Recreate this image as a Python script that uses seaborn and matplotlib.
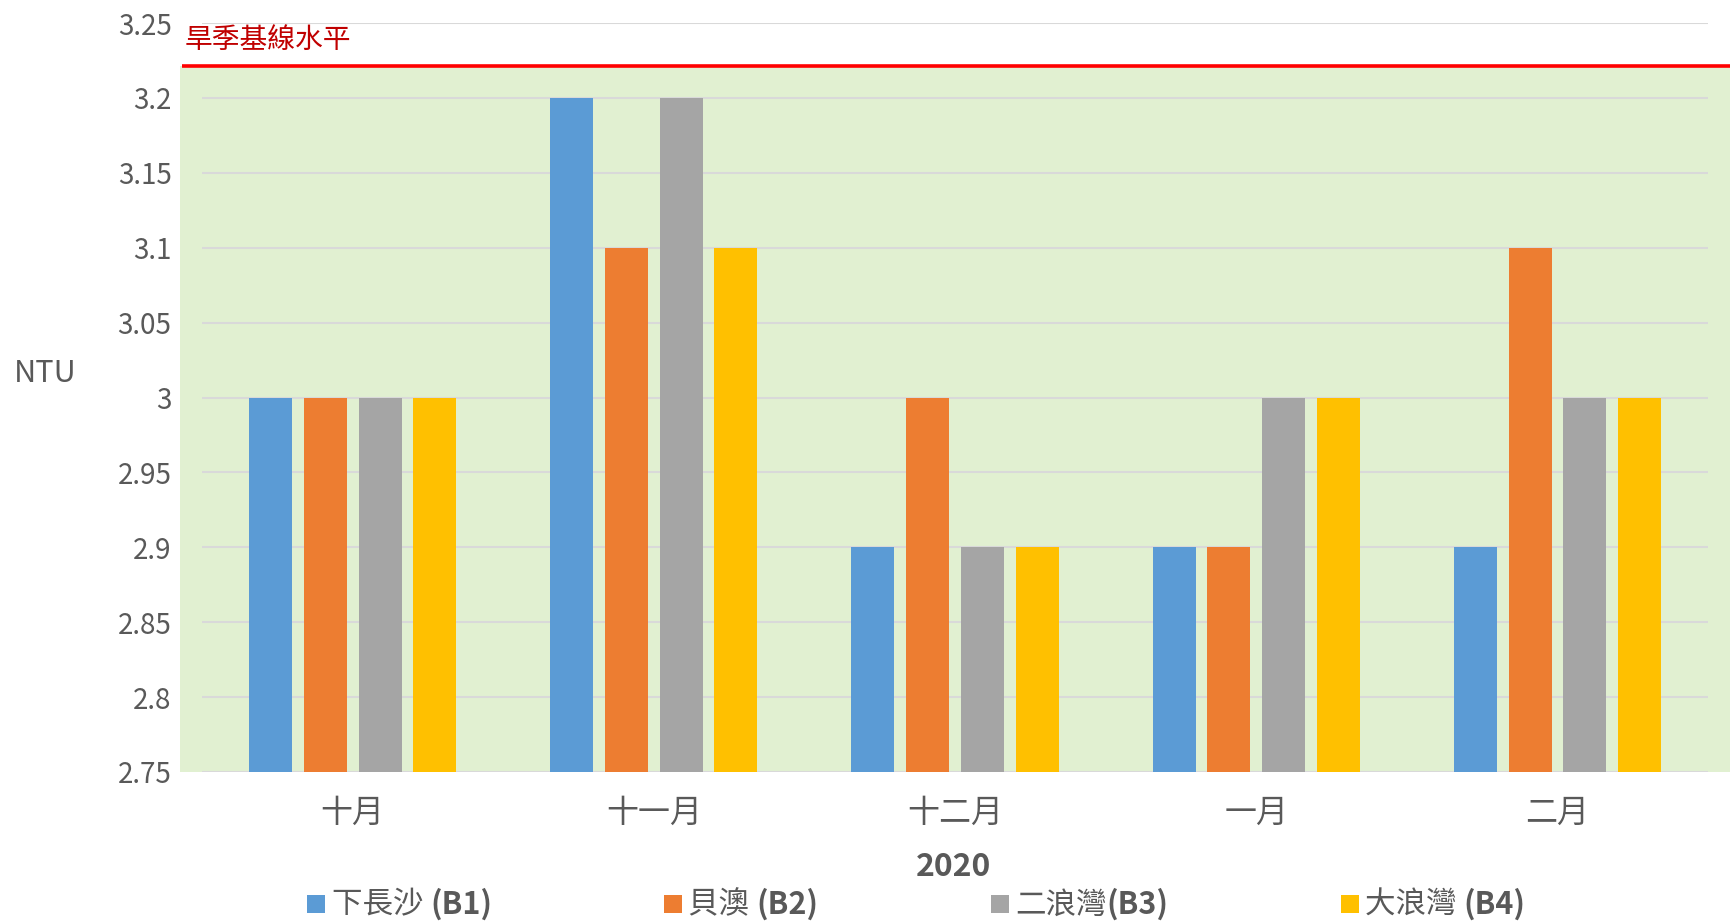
import matplotlib
matplotlib.use("Agg")
import matplotlib.pyplot as plt
import seaborn as sns
import pandas as pd
from matplotlib.offsetbox import (AnchoredOffsetbox, HPacker, TextArea,
                                  DrawingArea)
from matplotlib.patches import Rectangle

months = ["十月", "十一月", "十二月", "一月", "二月"]
stations = ["下長沙 (B1)", "貝澳 (B2)", "二浪灣(B3)", "大浪灣 (B4)"]
b1 = [3.0, 3.2, 2.9, 2.9, 2.9]
b2 = [3.0, 3.1, 3.0, 2.9, 3.1]
b3 = [3.0, 3.2, 2.9, 3.0, 3.0]
b4 = [3.0, 3.1, 2.9, 3.0, 3.0]
baseline = 3.221
baseline_label = "旱季基線水平"
yticks = [2.75, 2.8, 2.85, 2.9, 2.95, 3.0, 3.05, 3.1, 3.15, 3.2, 3.25]
ytick_labels = ["2.75", "2.8", "2.85", "2.9", "2.95", "3", "3.05", "3.1", "3.15", "3.2", "3.25"]
xlabel = "2020"
ylabel = "NTU"
colors = ["#5B9BD5", "#ED7D31", "#A5A5A5", "#FFC000"]

rows = []
for s, vals in zip(stations, [b1, b2, b3, b4]):
    for m, v in zip(months, vals):
        rows.append({"month": m, "station": s, "value": v})
df = pd.DataFrame(rows)

sns.set_theme(style="white")
FAM = ["Noto Sans CJK TC", "DejaVu Sans"]
plt.rcParams["font.family"] = FAM
plt.rcParams["axes.unicode_minus"] = False

fig = plt.figure(figsize=(17.3, 9.21), dpi=100)
ax = fig.add_axes([0.1168, 0.1618, 0.8705, 0.8132])

sns.barplot(data=df, x="month", y="value", hue="station", order=months,
            hue_order=stations, palette=colors, saturation=1, width=0.727,
            gap=0.215, linewidth=0, ax=ax, legend=False, zorder=3)

ax.set_xlim(-0.5, 4.5)
ax.set_ylim(2.75, 3.25)

# green baseline zone and red baseline line
ax.fill_between([-0.573, 4.573], 2.75, baseline, color="#E1F0D1", zorder=0,
                clip_on=False, linewidth=0)
ax.plot([-0.565, 4.573], [baseline, baseline], color="#FF0000", lw=2.6,
        zorder=4, clip_on=False, solid_capstyle="butt")
ax.text(-0.558, 3.239, baseline_label, color="#C00000", fontsize=20,
        ha="left", va="center", clip_on=False)

ax.set_yticks(yticks)
ax.set_yticklabels(ytick_labels)
ax.yaxis.grid(True, color="#D9D9D9", linewidth=1.5)
for gl in ax.get_ygridlines():
    gl.set_zorder(1)
for sp in ax.spines.values():
    sp.set_visible(False)
ax.tick_params(axis="y", length=0, pad=22, labelsize=20, labelcolor="#595959")
ax.tick_params(axis="x", length=0, pad=18, labelsize=23, labelcolor="#595959")
ax.set_xlabel("")
ax.set_ylabel("")

fig.text(0.551, 0.059, xlabel, fontsize=23, fontweight="bold", color="#595959",
         ha="center", va="center")
fig.text(0.026, 0.595, ylabel, fontsize=22, color="#595959", ha="center", va="center")

# legend: square marker, regular CJK name, bold code (sizes in points)
sq = 13
entries = []
for lab, col in zip(stations, colors):
    cjk = lab.split("(")[0]
    code = lab[len(cjk):]
    da = DrawingArea(sq, sq, 0, 0)
    da.add_artist(Rectangle((0, 0), sq, sq, facecolor=col, edgecolor="none"))
    t1 = TextArea(cjk, textprops=dict(fontsize=22, color="#595959", family=FAM))
    t2 = TextArea(code, textprops=dict(fontsize=22, color="#595959", family=FAM,
                                       fontweight="bold"))
    txt = HPacker(children=[t1, t2], sep=0, pad=0, align="baseline")
    entries.append(HPacker(children=[da, txt], sep=4.5, pad=0, align="center"))
row = HPacker(children=entries, sep=124, pad=0, align="center")
anch = AnchoredOffsetbox(loc="center", child=row, frameon=False,
                         bbox_to_anchor=(0.5296, 0.018),
                         bbox_transform=fig.transFigure, pad=0, borderpad=0)
fig.add_artist(anch)

fig.savefig("out.png", dpi=100, facecolor="white")
